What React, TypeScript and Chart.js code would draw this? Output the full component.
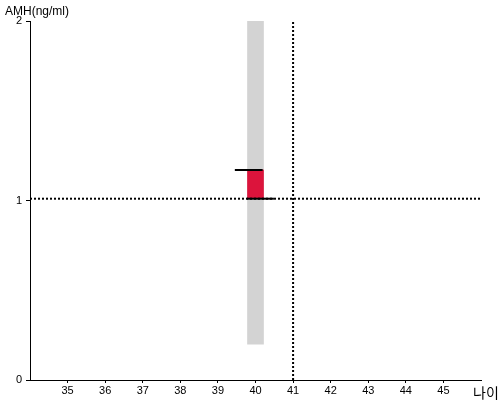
import React, { useEffect, useRef } from "react";
import { Chart, registerables } from "chart.js";

Chart.register(...registerables);

const xTicks = [35, 36, 37, 38, 39, 40, 41, 42, 43, 44, 45];
const xMin = 34;
const xMax = 46;
const yTicks = [0, 1, 2];
const ageCenter = 40;
const normalRange: [number, number] = [0.2, 2];
const userRange: [number, number] = [1.01, 1.17];
const upperMark = [
  { x: 39.45, y: 1.17 },
  { x: 40.19, y: 1.17 },
];
const lowerMark = [
  { x: 39.77, y: 1.01 },
  { x: 40.49, y: 1.01 },
];
const userAge = 41;
const userAmh = 1.01;
const yTitle = "AMH(ng/ml)";
const xTitle = "나이";

const FONT = "'Liberation Sans', Arial, sans-serif";

export default function App() {
  const ref = useRef<HTMLCanvasElement>(null);
  useEffect(() => {
    if (!ref.current) return;
    const titles = {
      id: "titles",
      afterDraw(chart: any) {
        const ctx = chart.ctx;
        ctx.save();
        ctx.fillStyle = "#000";
        ctx.textBaseline = "middle";
        ctx.textAlign = "left";
        ctx.font = `12px ${FONT}`;
        ctx.fillText(yTitle, 5, 12);
        ctx.font = `14px 'Noto Sans CJK KR', sans-serif`;
        ctx.fillText(xTitle, 473, 393);
        ctx.restore();
      },
    };
    const chart = new Chart(ref.current, {
      type: "bar",
      data: {
        datasets: [
          {
            type: "line",
            data: [
              { x: userAge, y: 0 },
              { x: userAge, y: 2 },
            ],
            borderColor: "#000",
            borderWidth: 2,
            borderDash: [2, 2],
            pointRadius: 0,
            order: 1,
          } as any,
          {
            type: "line",
            data: [
              { x: xMin, y: userAmh },
              { x: xMax, y: userAmh },
            ],
            borderColor: "#000",
            borderWidth: 2,
            borderDash: [2, 2],
            pointRadius: 0,
            order: 1,
          } as any,
          {
            type: "line",
            data: upperMark,
            borderColor: "#000",
            borderWidth: 2,
            pointRadius: 0,
            order: 0,
          } as any,
          {
            type: "line",
            data: lowerMark,
            borderColor: "#000",
            borderWidth: 2,
            pointRadius: 0,
            order: 0,
          } as any,
          {
            type: "bar",
            data: [{ x: ageCenter, y: userRange }],
            backgroundColor: "#dc143c",
            barThickness: 16,
            grouped: false,
            order: 2,
          } as any,
          {
            type: "bar",
            data: [{ x: ageCenter, y: normalRange }],
            backgroundColor: "#d3d3d3",
            barThickness: 16,
            grouped: false,
            order: 3,
          } as any,
        ],
      },
      options: {
        responsive: false,
        animation: false,
        layout: { padding: { left: 0, right: 19, top: 21, bottom: 0 } },
        plugins: { legend: { display: false }, tooltip: { enabled: false } },
        scales: {
          x: {
            type: "linear",
            min: xMin,
            max: xMax,
            offset: false,
            afterBuildTicks: (s: any) => {
              s.ticks = [xMin, ...xTicks, xMax].map((v) => ({ value: v }));
            },
            afterFit: (s: any) => {
              s.height = 20;
            },
            ticks: {
              autoSkip: false,
              maxRotation: 0,
              padding: 1,
              color: "#000",
              font: { family: FONT, size: 11 },
              callback: (v: any) => (xTicks.includes(Number(v)) ? String(v) : ""),
            },
            grid: {
              offset: false,
              drawOnChartArea: false,
              tickLength: 3,
              tickColor: (c: any) =>
                c.tick && xTicks.includes(c.tick.value) ? "#000" : "rgba(0,0,0,0)",
            },
            border: { color: "#000", width: 1 },
          },
          y: {
            type: "linear",
            min: 0,
            max: 2,
            afterBuildTicks: (s: any) => {
              s.ticks = yTicks.map((v) => ({ value: v }));
            },
            afterFit: (s: any) => {
              s.width = 30;
            },
            ticks: {
              padding: 4,
              color: "#000",
              font: { family: FONT, size: 11 },
            },
            grid: {
              drawOnChartArea: false,
              tickLength: 4,
              tickColor: "#000",
            },
            border: { color: "#000", width: 1 },
          },
        },
      } as any,
      plugins: [titles],
    });
    return () => chart.destroy();
  }, []);
  return (
    <div style={{ position: "fixed", left: 0, top: 0, width: 500, height: 400, background: "#fff" }}>
      <canvas ref={ref} width={500} height={400} style={{ width: 500, height: 400 }} />
    </div>
  );
}
